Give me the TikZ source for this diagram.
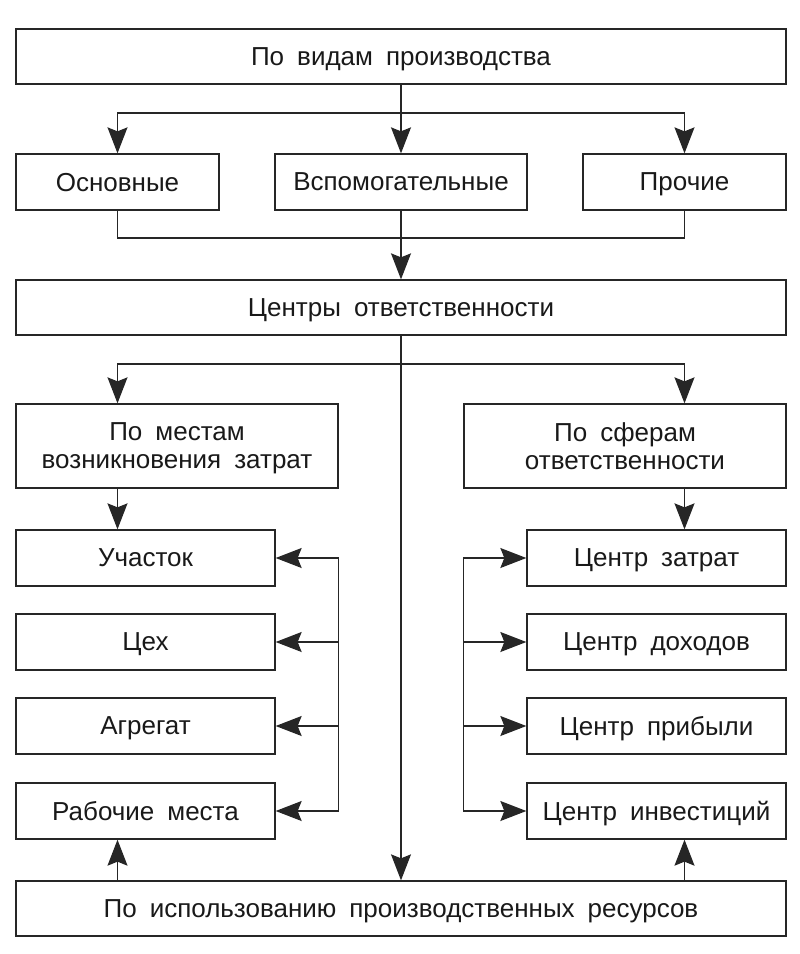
\documentclass[tikz,border=0pt]{standalone}
\usepackage{fontspec}
\setmainfont{Liberation Sans}[WordSpace=1.8]
\usetikzlibrary{arrows.meta,calc}
\begin{document}
\begin{tikzpicture}[x=1pt,y=-1pt,
  line width=1.3pt,
  conn/.style={draw=black!85,line width=1.3pt},
  box/.style={draw=black!85,line width=1.3pt,rectangle,inner sep=0pt,
    font=\fontsize{26}{28}\selectfont,text=black!90,align=center,text depth=0pt},
  arr/.style={conn,-{Stealth[length=26pt,width=20pt,inset=4pt]}}]
\useasboundingbox (0,0) rectangle (800,954);
% nodes
\node[box,minimum width=770,minimum height=55] (top) at (401,56.5) {По видам производства};
\node[box,minimum width=203,minimum height=56] (osn) at (117.5,182) {Основные};
\node[box,minimum width=252,minimum height=56] (vsp) at (401,182) {Вспомогательные};
\node[box,minimum width=203,minimum height=56] (pro) at (684.5,182) {Прочие};
\node[box,minimum width=770,minimum height=55] (cen) at (401,307.5) {Центры ответственности};
\node[box,minimum width=322,minimum height=84] (mest) at (177,446) {По местам\\возникновения затрат};
\node[box,minimum width=322,minimum height=84] (sfer) at (625,446) {По сферам\\ответственности};
\node[box,minimum width=259,minimum height=56] (uch) at (145.5,558) {Участок};
\node[box,minimum width=259,minimum height=56] (ceh) at (145.5,642) {Цех};
\node[box,minimum width=259,minimum height=56] (agr) at (145.5,726) {Агрегат};
\node[box,minimum width=259,minimum height=56] (rab) at (145.5,811) {Рабочие места};
\node[box,minimum width=259,minimum height=56] (zat) at (656.5,558) {Центр затрат};
\node[box,minimum width=259,minimum height=56] (doh) at (656.5,642) {Центр доходов};
\node[box,minimum width=259,minimum height=56] (pri) at (656.5,726) {Центр прибыли};
\node[box,minimum width=259,minimum height=56] (inv) at (656.5,811) {Центр инвестиций};
\node[box,minimum width=770,minimum height=55] (bot) at (401,908.5) {По использованию производственных ресурсов};
% junctions
\coordinate (j1) at (401,113);
\coordinate (j2) at (401,238);
\coordinate (j3) at (401,364);
% connectors
\draw[conn] (top.south) -- (j1);
\draw[arr] (j1) -| (osn.north);
\draw[arr] (j1) -- (vsp.north);
\draw[arr] (j1) -| (pro.north);
\draw[conn] (osn.south) |- (j2);
\draw[conn] (pro.south) |- (j2);
\draw[arr] (vsp.south) -- (cen.north);
\draw[arr] (cen.south) -- (bot.north);
\draw[arr] (j3) -| (mest.north -| osn.north);
\draw[arr] (j3) -| (sfer.north -| pro.north);
\draw[arr] (mest.south -| osn.south) -- (uch.north -| osn.south);
\draw[arr] (sfer.south -| pro.south) -- (zat.north -| pro.south);
% left bracket
\draw[conn] (uch.east -| mest.east) -- (rab.east -| mest.east);
\draw[arr] (uch.east -| mest.east) -- (uch.east);
\draw[arr] (ceh.east -| mest.east) -- (ceh.east);
\draw[arr] (agr.east -| mest.east) -- (agr.east);
\draw[arr] (rab.east -| mest.east) -- (rab.east);
% right bracket
\draw[conn] (zat.west -| sfer.west) -- (inv.west -| sfer.west);
\draw[arr] (zat.west -| sfer.west) -- (zat.west);
\draw[arr] (doh.west -| sfer.west) -- (doh.west);
\draw[arr] (pri.west -| sfer.west) -- (pri.west);
\draw[arr] (inv.west -| sfer.west) -- (inv.west);
% bottom up arrows
\draw[arr] (bot.north -| osn.south) -- (rab.south -| osn.south);
\draw[arr] (bot.north -| pro.south) -- (inv.south -| pro.south);
\end{tikzpicture}
\end{document}
